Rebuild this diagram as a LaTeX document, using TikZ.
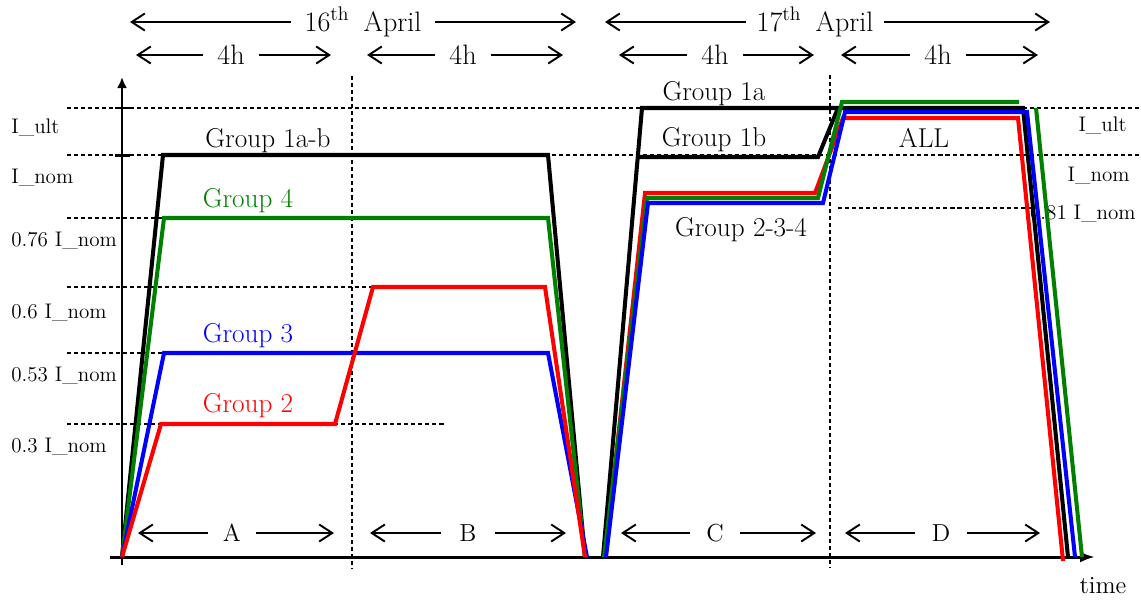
\documentclass[tikz,border=0pt]{standalone}
\usetikzlibrary{arrows.meta}
\definecolor{grn}{RGB}{0,128,0}
\begin{document}
\begin{tikzpicture}[x=0.02cm,y=-0.02cm,
        >={Straight Barb[length=2.6mm,width=3.4mm]},
        dim/.style={inner sep=0pt,minimum height=0.5cm,font=\fontsize{16}{18}\selectfont},
        seg/.style={inner sep=0pt,minimum height=0.5cm,font=\fontsize{14}{16}\selectfont},
        dimline/.style={->,line width=1.1pt},
        guide/.style={dash pattern=on 2.3pt off 1.7pt,line width=0.6pt},
        curve/.style={line width=2.3pt},
        lab/.style={anchor=base west,inner sep=0pt,font=\fontsize{12}{14}\selectfont},
        grp/.style={anchor=base,inner sep=0pt,font=\fontsize{15.5}{18}\selectfont}]
        \useasboundingbox (0,0) rectangle (1141,599);
        % time spans
        \node[dim,minimum width=2.88cm] (d16) at (363,22) {16\textsuperscript{th}\enspace April};
        \node[dim,minimum width=2.76cm] (d17) at (815,22) {17\textsuperscript{th}\enspace April};
        \node[dim,minimum width=1.12cm] (h1) at (231,55) {4h};
        \node[dim,minimum width=1.12cm] (h2) at (463,55) {4h};
        \node[dim,minimum width=1.12cm] (h3) at (715,55) {4h};
        \node[dim,minimum width=1.10cm] (h4) at (938,55) {4h};
        \node[seg,minimum width=0.94cm] (pA) at (232,533) {A};
        \node[seg,minimum width=1.06cm] (pB) at (468,533) {B};
        \node[seg,minimum width=0.98cm] (pC) at (715,533) {C};
        \node[seg,minimum width=1.04cm] (pD) at (941,533) {D};
        \foreach \n/\a/\b/\y in {d16/130/576/22,d17/605/1050/22,h1/136/331/55,h2/367/563/55,
                h3/619/814/55,h4/841/1038/55,pA/138/334/533,pB/370/566/533,pC/621/816/533,pD/845/1040/533}{
            \coordinate (\n-l) at (\a,\y);
            \coordinate (\n-r) at (\b,\y);
            \draw[dimline] (\n) -- (\n-l);
            \draw[dimline] (\n) -- (\n-r);
        }
        % levels
        \node[lab] (ult) at (11,133) {I\_ult};
        \node[lab] (nom) at (11,183) {I\_nom};
        \node[lab] (l76) at (11,246) {0.76 I\_nom};
        \node[lab] (l60) at (11,318) {0.6 I\_nom};
        \node[lab] (l53) at (11,381) {0.53 I\_nom};
        \node[lab] (l30) at (11,452) {0.3 I\_nom};
        \node[lab,anchor=base east] (ultR) at (1127,131) {I\_ult};
        \node[lab,anchor=base east] (nomR) at (1130,181) {I\_nom};
        \node[lab,anchor=base east] (l81) at (1136,219) {0.81 I\_nom};
        \draw[guide] (67,108)--(1141,108) (67,155)--(1141,155);
        \draw[guide] (67,218)--(444,218) (67,287)--(444,287) (67,353)--(444,353) (67,424)--(444,424);
        \draw[guide] (838,208)--(1036,208);
        \draw[guide] (352,76)--(352,568) (830,75)--(830,568);
        % axes
        \draw[line width=1.7pt,-{Latex[length=2.2mm,width=2mm]}] (122,565)--(122,77);
        \draw[line width=1.7pt,-{Latex[length=3mm,width=2.2mm]}] (110,557)--(1095,557);
        \draw[line width=1.7pt] (115,108)--(130,108) (115,155)--(130,155);
        \node[anchor=base,inner sep=0pt,font=\fontsize{14}{16}\selectfont] (time) at (1103,593) {time};
        % 16th April
        \draw[curve] (122,557)--(163,155)--(548,155)--(585,557);
        \draw[curve,grn] (122,557)--(164,218)--(548,218)--(585,557);
        \draw[curve,blue] (122,557)--(164,353)--(548,353)--(587,557);
        \draw[curve,red] (122,557)--(161,424)--(335,424)--(373,287)--(545,287)--(585,557);
        % 17th April
        \draw[curve] (603,557)--(642,108)--(1023,108)--(1068,557);
        \draw[curve] (638,157)--(818,157)--(838,108);
        \draw[curve,red] (605,557)--(645,193)--(815,193)--(843,118)--(1018,118)--(1063,561);
        \draw[curve,grn] (604,557)--(647,198)--(818,198)--(842,102)--(1019,102) (1036,108)--(1082,557);
        \draw[curve,blue] (606,557)--(648,203)--(823,203)--(845,112)--(1027,112)--(1075,557);
        % groups
        \node[grp] (g1ab) at (268,147) {Group 1a-b};
        \node[grp,grn] (g4) at (248,207) {Group 4};
        \node[grp,blue] (g3) at (248,342) {Group 3};
        \node[grp,red] (g2) at (248,412) {Group 2};
        \node[grp] (g1a) at (714,100) {Group 1a};
        \node[grp] (g1b) at (714,146) {Group 1b};
        \node[grp] (g234) at (741,236) {Group 2-3-4};
        \node[grp] (all) at (924,147) {ALL};
\end{tikzpicture}
\end{document}
